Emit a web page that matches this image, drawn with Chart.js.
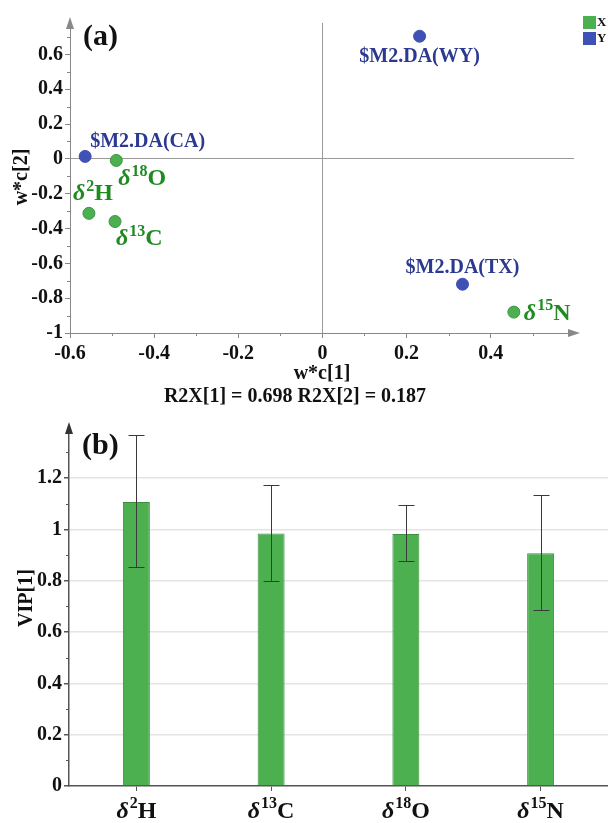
<!DOCTYPE html>
<html>
<head>
<meta charset="utf-8">
<script src="https://cdn.jsdelivr.net/npm/chart.js@4.4.1/dist/chart.umd.min.js"></script>
<style>
  body { margin: 0; background: #fff; }
  #wrapA { position: absolute; left: 0; top: 0; width: 608px; height: 410px; }
  #wrapB { position: absolute; left: 0; top: 410px; width: 608px; height: 413px; }
  canvas { display: block; }
</style>
</head>
<body>
<div id="wrapA"><canvas id="loadings" width="608" height="410"></canvas></div>
<div id="wrapB"><canvas id="vipChart" width="608" height="413"></canvas></div>
<script>
// isotope variables (X block)
let isoSup = ["2", "13", "18", "15"];
let isoEl = ["H", "C", "O", "N"];
let xLoad1 = [-0.555, -0.493, -0.490, 0.455];
let xLoad2 = [-0.313, -0.360, -0.009, -0.880];

// class responses (Y block)
let yNames = ["$M2.DA(CA)", "$M2.DA(WY)", "$M2.DA(TX)"];
let yLoad1 = [-0.564, 0.231, 0.333];
let yLoad2 = [0.014, 0.704, -0.720];

// VIP with confidence interval
let vip = [1.107, 0.984, 0.982, 0.907];
let vipLow = [0.852, 0.800, 0.875, 0.686];
let vipHigh = [1.368, 1.172, 1.094, 1.133];

// tick values
let aTicksX = [-0.6, -0.4, -0.2, 0, 0.2, 0.4];
let aTicksY = [-1, -0.8, -0.6, -0.4, -0.2, 0, 0.2, 0.4, 0.6];
let bTicksY = [0, 0.2, 0.4, 0.6, 0.8, 1, 1.2];

let r2Text = "R2X[1] = 0.698 R2X[2] = 0.187";

const serif = "'Liberation Serif', 'Times New Roman', serif";
const green = "#4caf50";
const blue = "#3f51b5";
const greenText = "#1f8a22";
const blueText = "#2b3990";

Chart.defaults.font.family = serif;
Chart.defaults.font.weight = "bold";
Chart.defaults.font.size = 20;
Chart.defaults.color = "#111";

function fmt(v){
    return String(Math.round(v * 100) / 100);
}

function setTicks(list){
    return function(scale){
        scale.ticks = list.map(v => ({ value: v }));
    };
}

// δ with superscript mass number, y = vertical middle of caps
function drawIso(ctx, x, y, sup, el, size, color, align){
    let dFont = "italic bold " + size + "px " + serif;
    let sFont = "bold " + Math.round(size * 0.68) + "px " + serif;
    let eFont = "bold " + size + "px " + serif;

    ctx.font = dFont;
    let wd = ctx.measureText("δ").width;
    ctx.font = sFont;
    let ws = ctx.measureText(sup).width;
    ctx.font = eFont;
    let we = ctx.measureText(el).width;

    let total = wd + ws + we + 1;
    let x0 = x;
    if(align === "center") x0 = x - total / 2;
    if(align === "right") x0 = x - total;

    let base = y + size * 0.33;
    ctx.fillStyle = color;
    ctx.textAlign = "left";
    ctx.textBaseline = "alphabetic";
    ctx.font = dFont;
    ctx.fillText("δ", x0, base);
    ctx.font = sFont;
    ctx.fillText(sup, x0 + wd + 1, base - size * 0.4);
    ctx.font = eFont;
    ctx.fillText(el, x0 + wd + ws + 1, base);
}

function minorTicksY(ctx, scale, x, len, color){
    ctx.save();
    ctx.strokeStyle = color;
    ctx.lineWidth = 1;
    for(let k = Math.ceil(scale.min * 10); k <= scale.max * 10; k++){
        if(k % 2 === 0) continue;
        let py = Math.round(scale.getPixelForValue(k / 10)) + 0.5;
        ctx.beginPath();
        ctx.moveTo(x, py);
        ctx.lineTo(x - len, py);
        ctx.stroke();
    }
    ctx.restore();
}

function minorTicksX(ctx, scale, y, len, color){
    ctx.save();
    ctx.strokeStyle = color;
    ctx.lineWidth = 1;
    for(let k = Math.ceil(scale.min * 10); k <= scale.max * 10; k++){
        if(k % 2 === 0) continue;
        let px = Math.round(scale.getPixelForValue(k / 10)) + 0.5;
        ctx.beginPath();
        ctx.moveTo(px, y);
        ctx.lineTo(px, y + len);
        ctx.stroke();
    }
    ctx.restore();
}

function arrowUp(ctx, x, y, color){
    ctx.fillStyle = color;
    ctx.beginPath();
    ctx.moveTo(x, y - 4);
    ctx.lineTo(x - 4, y + 8);
    ctx.lineTo(x + 4, y + 8);
    ctx.closePath();
    ctx.fill();
}

function arrowRight(ctx, x, y, color){
    ctx.fillStyle = color;
    ctx.beginPath();
    ctx.moveTo(x + 4, y);
    ctx.lineTo(x - 8, y - 4);
    ctx.lineTo(x - 8, y + 4);
    ctx.closePath();
    ctx.fill();
}

// label offsets from the point (style only)
let xLabelPos = [
    { dx: -16, dy: -21, align: "left" },
    { dx: 1, dy: 16, align: "left" },
    { dx: 2, dy: 17, align: "left" },
    { dx: 10, dy: 0, align: "left" }
];
let yLabelPos = [
    { dx: 5, dy: -15, align: "left" },
    { dx: 0, dy: 21, align: "center" },
    { dx: 0, dy: -16, align: "center" }
];

let loadingsPlugin = {
    id: "loadingsDecor",
    afterDraw(chart){
        let ctx = chart.ctx;
        let area = chart.chartArea;
        let xs = chart.scales.x;
        let ys = chart.scales.y;

        ctx.save();
        minorTicksY(ctx, ys, area.left, 3, "#888");
        minorTicksX(ctx, xs, area.bottom, 3, "#888");
        arrowUp(ctx, area.left, area.top - 2, "#888");
        arrowRight(ctx, area.right + 2, area.bottom, "#888");

        // point labels
        let metaX = chart.getDatasetMeta(0);
        metaX.data.forEach((pt, i) => {
            let p = xLabelPos[i];
            drawIso(ctx, pt.x + p.dx, pt.y + p.dy, isoSup[i], isoEl[i], 24, greenText, p.align);
        });
        let metaY = chart.getDatasetMeta(1);
        ctx.font = "bold 20px " + serif;
        ctx.fillStyle = blueText;
        ctx.textBaseline = "middle";
        metaY.data.forEach((pt, i) => {
            let p = yLabelPos[i];
            ctx.textAlign = p.align;
            ctx.fillText(yNames[i], pt.x + p.dx, pt.y + p.dy);
        });

        // legend
        ctx.fillStyle = green;
        ctx.fillRect(583, 16, 13, 13);
        ctx.fillStyle = blue;
        ctx.fillRect(583, 32, 13, 13);
        ctx.fillStyle = "#111";
        ctx.font = "bold 13px " + serif;
        ctx.textAlign = "left";
        ctx.textBaseline = "middle";
        ctx.fillText("X", 597, 23);
        ctx.fillText("Y", 597, 39);

        // panel tag and axis titles
        ctx.font = "bold 30px " + serif;
        ctx.fillText("(a)", 83, 37);

        ctx.font = "bold 20px " + serif;
        ctx.textAlign = "center";
        ctx.fillText("w*c[1]", (area.left + area.right) / 2, 374);
        ctx.fillText(r2Text, 295, 397);

        ctx.translate(22, 177);
        ctx.rotate(-Math.PI / 2);
        ctx.fillText("w*c[2]", 0, 0);
        ctx.restore();
    }
};

function zeroOnly(c){
    let t = c.tick;
    if(t && Math.abs(t.value) < 1e-9) return "#9a9a9a";
    return "rgba(0,0,0,0)";
}

let loadingsChart = new Chart(document.getElementById("loadings"), {
    type: "scatter",
    data: {
        datasets: [
            {
                label: "X",
                data: xLoad1.map((v, i) => ({ x: v, y: xLoad2[i] })),
                backgroundColor: green,
                borderColor: "#3e9442",
                borderWidth: 1,
                pointRadius: 6
            },
            {
                label: "Y",
                data: yLoad1.map((v, i) => ({ x: v, y: yLoad2[i] })),
                backgroundColor: blue,
                borderColor: blue,
                borderWidth: 1,
                pointRadius: 6
            }
        ]
    },
    options: {
        responsive: false,
        animation: false,
        layout: { padding: { top: 23, right: 34, left: 0, bottom: 0 } },
        plugins: { legend: { display: false }, tooltip: { enabled: false } },
        scales: {
            x: {
                min: -0.6,
                max: 0.598,
                afterBuildTicks: setTicks(aTicksX),
                ticks: { padding: 4, callback: v => fmt(v) },
                grid: { color: zeroOnly, tickColor: "#888", tickLength: 5 },
                border: { color: "#888", width: 1 },
                afterFit(scale){ scale.height = 77; }
            },
            y: {
                min: -1,
                max: 0.78,
                afterBuildTicks: setTicks(aTicksY),
                ticks: { padding: 2, callback: v => fmt(v) },
                grid: { color: zeroOnly, tickColor: "#888", tickLength: 5 },
                border: { color: "#888", width: 1 },
                afterFit(scale){ scale.width = 70; }
            }
        }
    },
    plugins: [loadingsPlugin]
});

let vipPlugin = {
    id: "vipDecor",
    afterDatasetsDraw(chart){
        let ctx = chart.ctx;
        let ys = chart.scales.y;
        let meta = chart.getDatasetMeta(0);
        ctx.save();
        ctx.strokeStyle = "#3a3a3a";
        ctx.lineWidth = 1;
        meta.data.forEach((bar, i) => {
            let cx = Math.round(bar.x) + 0.5;
            let top = Math.round(ys.getPixelForValue(vipHigh[i])) + 0.5;
            let bot = Math.round(ys.getPixelForValue(vipLow[i])) + 0.5;
            ctx.beginPath();
            ctx.moveTo(cx, top);
            ctx.lineTo(cx, bot);
            ctx.moveTo(cx - 8, top);
            ctx.lineTo(cx + 8, top);
            ctx.moveTo(cx - 8, bot);
            ctx.lineTo(cx + 8, bot);
            ctx.stroke();
        });
        ctx.restore();
    },
    afterDraw(chart){
        let ctx = chart.ctx;
        let area = chart.chartArea;
        let xs = chart.scales.x;
        let ys = chart.scales.y;
        ctx.save();
        minorTicksY(ctx, ys, area.left, 3, "#555");
        arrowUp(ctx, area.left, area.top - 2, "#333");

        isoEl.forEach((el, i) => {
            drawIso(ctx, xs.getPixelForTick(i), 400, isoSup[i], el, 24, "#111", "center");
        });

        ctx.fillStyle = "#111";
        ctx.font = "bold 30px " + serif;
        ctx.textAlign = "left";
        ctx.textBaseline = "middle";
        ctx.fillText("(b)", 82, 36);

        ctx.font = "bold 20px " + serif;
        ctx.textAlign = "center";
        ctx.translate(27, 188);
        ctx.rotate(-Math.PI / 2);
        ctx.fillText("VIP[1]", 0, 0);
        ctx.restore();
    }
};

let vipChart = new Chart(document.getElementById("vipChart"), {
    type: "bar",
    data: {
        labels: isoEl,
        datasets: [{
            label: "VIP[1]",
            data: vip,
            backgroundColor: green,
            borderColor: "#3b8f3f",
            borderWidth: 1,
            barPercentage: 0.2,
            categoryPercentage: 1
        }]
    },
    options: {
        responsive: false,
        animation: false,
        layout: { padding: { top: 18, right: 0, left: 0, bottom: 0 } },
        plugins: { legend: { display: false }, tooltip: { enabled: false } },
        scales: {
            x: {
                ticks: { color: "rgba(0,0,0,0)" },
                grid: { offset: false, drawOnChartArea: false, tickColor: "#555", tickLength: 5 },
                border: { color: "#555", width: 1.5 },
                afterFit(scale){ scale.height = 37; }
            },
            y: {
                min: 0,
                max: 1.395,
                afterBuildTicks: setTicks(bTicksY),
                ticks: { padding: 2, callback: v => fmt(v) },
                grid: {
                    color: c => (c.tick && c.tick.value > 0 ? "#e4e4e4" : "rgba(0,0,0,0)"),
                    lineWidth: 1.5,
                    tickColor: "#555",
                    tickLength: 5
                },
                border: { color: "#555", width: 1.5 },
                afterFit(scale){ scale.width = 69; }
            }
        }
    },
    plugins: [vipPlugin]
});
</script>
</body>
</html>
